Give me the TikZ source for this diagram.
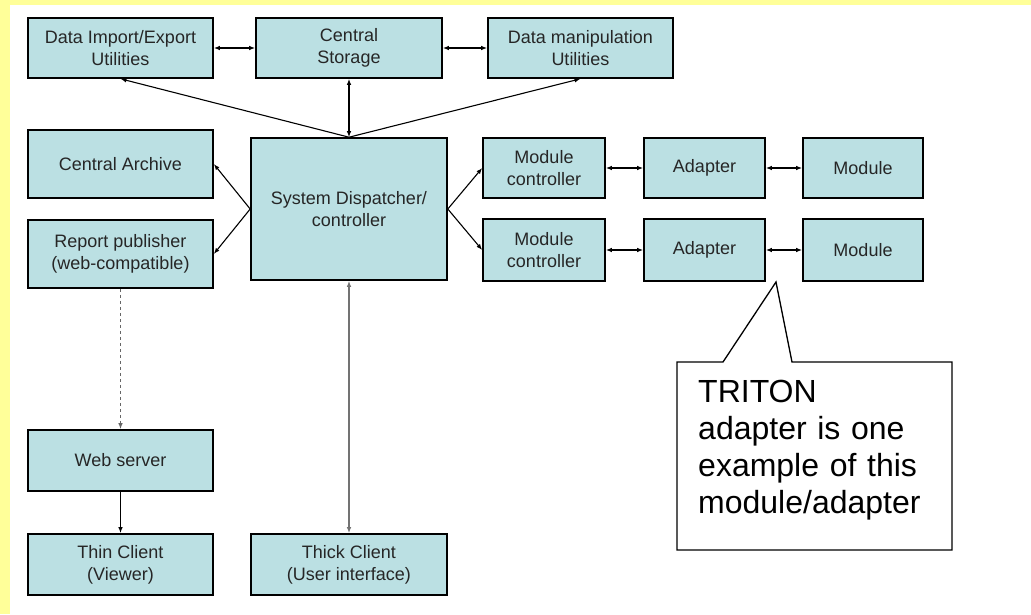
\documentclass[tikz,border=0pt]{standalone}
\usepackage{fontspec}
\setmainfont{Liberation Sans}
\usetikzlibrary{arrows.meta}
\definecolor{boxfill}{RGB}{187,224,227}
\definecolor{pagebg}{RGB}{255,255,153}

\begin{document}
\begin{tikzpicture}[x=1pt,y=-1pt]
\tikzset{bloc/.style={draw, line width=1.6pt, fill=boxfill, text=black!85, align=center,
    font=\fontsize{18}{22}\selectfont, minimum width=185pt, minimum height=60pt, inner sep=0pt},
  fl/.style={line width=1.1pt, >={Latex[length=6pt,width=4.5pt]}}}
\fill[pagebg] (0,0) rectangle (1031,614);
\fill[white] (10,5) rectangle (1031,614);
\node[bloc] (imp) at (120.5,48) {Data Import/Export\\Utilities};
\node[bloc, minimum width=186pt] (stor) at (349,48) {Central\\Storage};
\node[bloc] (manip) at (580.5,48) {Data manipulation\\Utilities};
\node[bloc, minimum height=68pt] (arch) at (120.5,164) {Central Archive};
\node[bloc, minimum height=68pt] (rep) at (120.5,254) {Report publisher\\(web-compatible)};
\node[bloc, minimum width=196pt, minimum height=142pt] (disp) at (349,209) {System Dispatcher/\\controller};
\node[bloc, minimum width=122pt] (mc1) at (544,168) {Module\\controller};
\node[bloc, minimum width=121pt] (ad1) at (704.5,168) {Adapter};
\node[bloc, minimum width=120pt] (mod1) at (863,168) {Module};
\node[bloc, minimum width=122pt, minimum height=62pt] (mc2) at (544,250) {Module\\controller};
\node[bloc, minimum width=121pt, minimum height=62pt] (ad2) at (704.5,250) {Adapter};
\node[bloc, minimum width=120pt, minimum height=62pt] (mod2) at (863,250) {Module};
\node[bloc, minimum height=61pt] (web) at (120.5,460.5) {Web server};
\node[bloc, minimum height=61pt] (thin) at (120.5,564.5) {Thin Client\\(Viewer)};
\node[bloc, minimum width=196pt, minimum height=61pt] (thick) at (349,564.5) {Thick Client\\(User interface)};
\draw[fl,<->] (imp) -- (stor);
\draw[fl,<->] (stor) -- (manip);
\draw[fl,<->] (stor) -- (disp);
\draw[fl,->] (disp.north) -- (imp.south);
\draw[fl,->] (disp.north) -- (manip.south);
\draw[fl,->] (disp.west) -- (arch.east);
\draw[fl,->] (disp.west) -- (rep.east);
\draw[fl,->] (disp.east) -- (mc1.west);
\draw[fl,->] (disp.east) -- (mc2.west);
\draw[fl,<->] (mc1) -- (ad1);
\draw[fl,<->] (ad1) -- (mod1);
\draw[fl,<->] (mc2) -- (ad2);
\draw[fl,<->] (ad2) -- (mod2);
\draw[fl,->,dashed,black!60] (rep) -- (web);
\draw[fl,->,line width=1.8pt] (web) -- (thin);
\draw[fl,<->,black!55,line width=1.6pt] (disp) -- (thick);
\coordinate (tip) at (776,282);
\draw[line width=1.3pt, fill=white] (677,362) -- (723,362) -- (tip) -- (792,362) -- (952,362) -- (952,550) -- (677,550) -- cycle;
\node[anchor=base west, align=left, text width=250pt, inner sep=0pt, font=\fontsize{32}{37}\selectfont] (note) at (698,402) {TRITON\\adapter is one\\example of this\\module/adapter};
\end{tikzpicture}
\end{document}
